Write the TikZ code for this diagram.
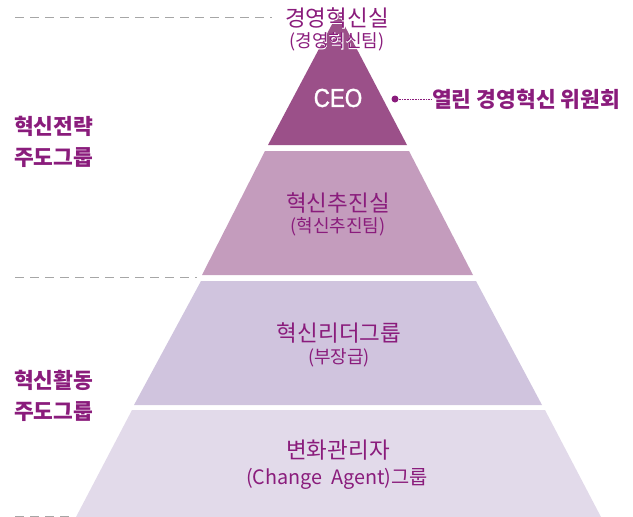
\documentclass[tikz,border=0pt]{standalone}
\usepackage{fontspec}
\setmainfont{Noto Sans CJK KR}
\newfontfamily\korfont{Noto Sans CJK KR}
\newfontfamily\halofont[FakeBold=4]{Noto Sans CJK KR}
\newfontfamily\ceofont[FakeBold=1.5]{Liberation Sans}
\definecolor{txtpurple}{HTML}{8A1C7C}
\definecolor{tierA}{HTML}{9B5089}
\definecolor{tierB}{HTML}{C49CBD}
\definecolor{tierC}{HTML}{D0C4DE}
\definecolor{tierD}{HTML}{E2DAEA}
\definecolor{dashgray}{HTML}{A6A6A6}
\tikzset{
  big/.style={text=txtpurple, inner sep=0pt, font=\korfont\fontsize{22.5}{26}\selectfont},
  small/.style={text=txtpurple, inner sep=0pt, font=\korfont\fontsize{18}{21}\selectfont},
  side/.style={text=txtpurple, inner sep=0pt, anchor=west, align=left, font=\korfont\bfseries\fontsize{21.5}{31}\selectfont},
  guide/.style={draw=dashgray, line width=0.9pt, dash pattern=on 9pt off 6pt},
}
\begin{document}
\begin{tikzpicture}[x=1pt,y=-1pt]
\useasboundingbox (0,0) rectangle (633,517);
% guide lines
\draw[guide] (15,17) -- (272,17);
\draw[guide] (15,277) -- (197,277);
\draw[guide] (15,516) -- (72,516);
% tiers
\fill[tierA] (338,13) -- (407,145) -- (268,145) -- cycle;
\fill[tierB] (265,151) -- (409,151) -- (473,275) -- (202,275) -- cycle;
\fill[tierC] (201,281) -- (476,281) -- (542,405) -- (134,405) -- cycle;
\fill[tierD] (132,410) -- (545,410) -- (601,517) -- (76,517) -- cycle;
% top labels with halo
\node[inner sep=0pt, text=white, font=\halofont\fontsize{22.5}{26}\selectfont] at (337,18) {경영혁신실};
\node[inner sep=0pt, text=white, font=\halofont\fontsize{18}{21}\selectfont] at (337,42) {(경영혁신팀)};
\node[big] (top) at (337,18) {경영혁신실};
\node[small] (topsub) at (337,42) {(경영혁신팀)};
% CEO
\node[inner sep=0pt, text=white, font=\ceofont\fontsize{26}{28}\selectfont, xscale=0.86] (ceo) at (338,98) {CEO};
% committee
\node[circle, fill=txtpurple, inner sep=0pt, minimum size=7pt] (dot) at (395,99) {};
\node[text=txtpurple, inner sep=0pt, anchor=west, font=\korfont\bfseries\fontsize{21.5}{24}\selectfont] (comm) at (432,99) {열린 경영혁신 위원회};
\draw[txtpurple, line width=0.6pt, densely dotted] (dot) -- (comm.west);
% tier labels
\node[big] (t2) at (338,203) {혁신추진실};
\node[small] (t2s) at (338,227) {(혁신추진팀)};
\node[big] (t3) at (339,333) {혁신리더그룹};
\node[small] (t3s) at (339,358) {(부장급)};
\node[big] (t4) at (338,450) {변화관리자};
\node[text=txtpurple, inner sep=0pt, font=\korfont\fontsize{19.8}{23}\selectfont] (t4s) at (337,479) {(Change\ \ Agent)그룹};
% side labels
\node[side] (s1) at (14,142) {혁신전략\\주도그룹};
\node[side] (s2) at (14,396) {혁신활동\\주도그룹};
\end{tikzpicture}
\end{document}
